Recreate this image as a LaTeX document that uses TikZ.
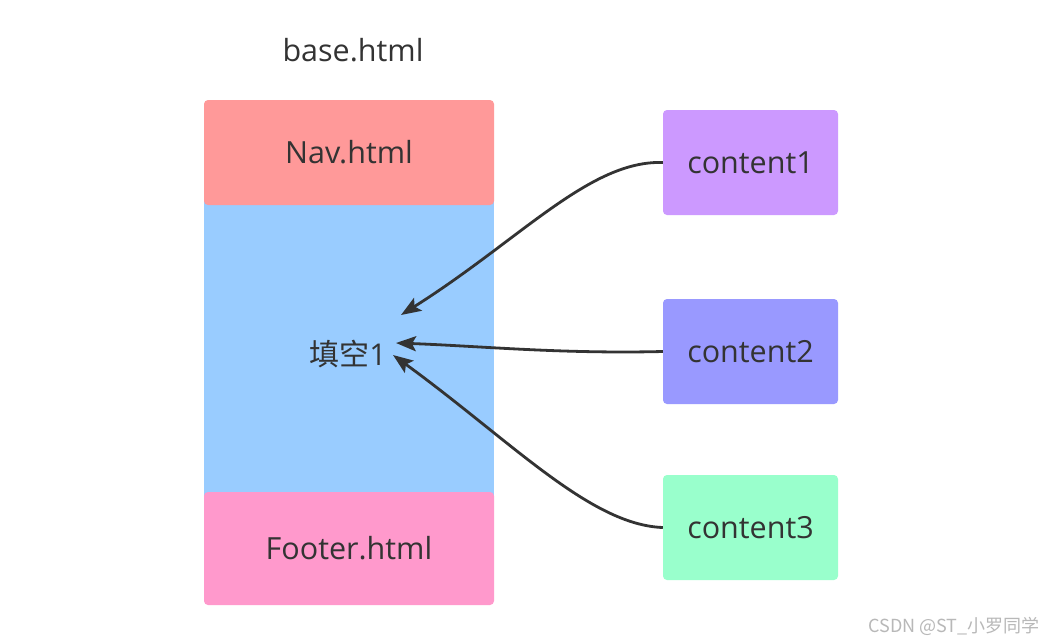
\documentclass[tikz,border=0pt]{standalone}
\usepackage{fontspec}
\setmainfont{Open Sans}
\newfontfamily\cjk{Noto Sans CJK SC}
\usetikzlibrary{arrows.meta}
\definecolor{txt}{HTML}{333333}
\definecolor{navc}{HTML}{FF9999}
\definecolor{bluec}{HTML}{99CCFF}
\definecolor{footc}{HTML}{FF99CC}
\definecolor{cone}{HTML}{CC99FF}
\definecolor{ctwo}{HTML}{9999FF}
\definecolor{cthree}{HTML}{99FFCC}
\definecolor{wm}{HTML}{B8B8B8}
\begin{document}
\begin{tikzpicture}[x=1pt,y=-1pt,
  box/.style={rounded corners=4pt, inner sep=0pt, text=txt, font=\fontsize{30.5}{35}\selectfont},
  link/.style={draw=txt, line width=2.8pt, -{Stealth[length=20pt,width=15pt,inset=4pt]}}]
\useasboundingbox (0,0) rectangle (1045,643);
\fill[white] (0,0) rectangle (1045,643);
% base.html
\node[text=txt, font=\fontsize{30.5}{35}\selectfont] (base) at (353,50) {base.html};
% blue body
\node[fill=bluec, minimum width=290pt, minimum height=297pt, inner sep=0pt] (body) at (349,348) {};
\node[box, fill=navc, minimum width=290pt, minimum height=105pt] (nav) at (349,152.5) {Nav.html};
\node[box, fill=footc, minimum width=290pt, minimum height=113pt] (foot) at (349,548.5) {Footer.html};
\node[text=txt, inner sep=0pt, font=\fontsize{30}{35}\selectfont] (fill1) at (348,354) {{\cjk 填空}1};
% content boxes
\node[box, fill=cone, minimum width=175pt, minimum height=105pt] (c1) at (750.5,162.5) {content1};
\node[box, fill=ctwo, minimum width=175pt, minimum height=105pt] (c2) at (750.5,351.5) {content2};
\node[box, fill=cthree, minimum width=175pt, minimum height=105pt] (c3) at (750.5,527.5) {content3};
% arrow tips
\coordinate (t1) at (401,315);
\coordinate (t2) at (396,343);
\coordinate (t3) at (393,355);
\draw[link] (c1.west) .. controls (590,160) and (520,240) .. (t1);
\draw[link] (c2.west) .. controls (560,354) and (480,346) .. (t2);
\draw[link] (c3.west) .. controls (590,525) and (510,440) .. (t3);
% watermark
\node[text=wm, anchor=east, inner sep=0pt, font=\cjk\fontsize{18}{20}\selectfont] (wmark) at (1040,626) {CSDN @ST\_小罗同学};
\end{tikzpicture}
\end{document}
